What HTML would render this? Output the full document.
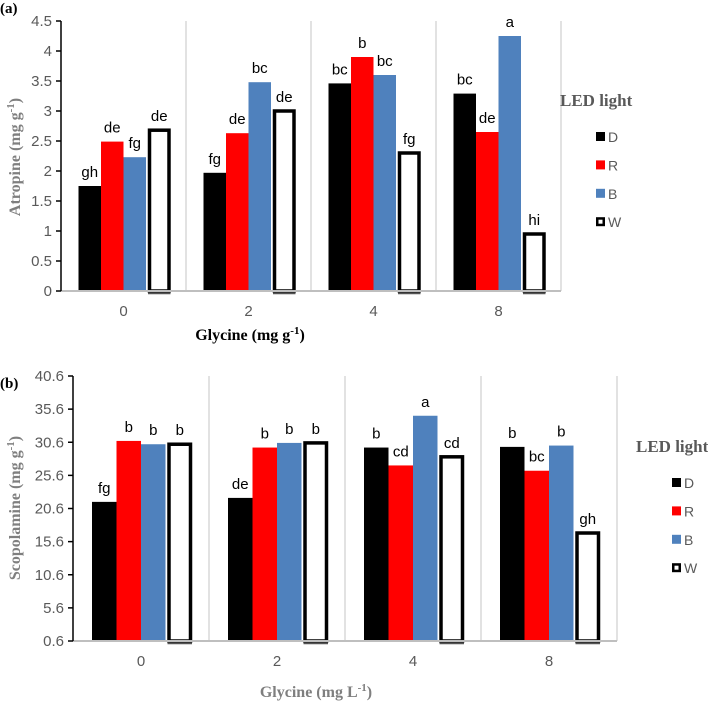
<!DOCTYPE html>
<html><head><meta charset="utf-8"><style>
body{margin:0;background:#fff;}
svg{display:block;}
</style></head><body>
<svg id="s" width="708" height="701" xmlns="http://www.w3.org/2000/svg"></svg>
<script>
const categories = ["0","2","4","8"];
const seriesNames = ["D","R","B","W"];
const atroD = [1.75,1.97,3.46,3.29];
const atroR = [2.49,2.63,3.90,2.65];
const atroB = [2.23,3.48,3.60,4.25];
const atroW = [2.68,3.00,2.30,0.95];
const atroLetters = [["gh","fg","bc","bc"],["de","de","b","de"],["fg","bc","bc","a"],["de","de","fg","hi"]];
const atroTicks = [0,0.5,1,1.5,2,2.5,3,3.5,4,4.5];
const scopD = [21.6,22.2,29.8,29.9];
const scopR = [30.8,29.8,27.1,26.3];
const scopB = [30.3,30.5,34.6,30.1];
const scopW = [30.3,30.5,28.4,16.9];
const scopLetters = [["fg","de","b","b"],["b","b","cd","bc"],["b","b","a","b"],["b","b","cd","gh"]];
const scopTicks = [0.6,5.6,10.6,15.6,20.6,25.6,30.6,35.6,40.6];

const NS="http://www.w3.org/2000/svg";
const svg=document.getElementById('s');
function mk(tag,attrs,parent){const e=document.createElementNS(NS,tag);for(const k in attrs)e.setAttribute(k,attrs[k]);(parent||svg).appendChild(e);return e;}
const fills=["#000000","#ff0000","#4f81bd","#ffffff"];

function chart(o){
  const g=mk('g',{});
  
  
  const y=v=>o.y0-(v-o.min)/(o.max-o.min)*(o.y0-o.yTop);
  const cw=(o.xR-o.x0)/categories.length;
  const xc=i=>o.x0+cw*(i+0.5);
  // dividers
  for(let i=1;i<=categories.length;i++){
    const l=mk('line',{x1:o.x0+cw*i,x2:o.x0+cw*i,y1:o.yTop,y2:o.y0,stroke:'#d9d9d9','stroke-width':1.5},g);
    
    
  }
  const series=o.series;
  categories.forEach((c,i)=>{
    series.forEach((arr,s)=>{
      const bx=xc(i)-2*o.bw+s*o.bw;
      const top=y(arr[i]);
      let r;
      if(s===3){
        r=mk('rect',{x:bx+2+1.5,y:top,width:o.bw-3,height:o.y0-top,fill:'#fff',stroke:'#000','stroke-width':3.5},g);
        const u=mk('line',{x1:bx+2,x2:bx+2+o.bw,y1:o.y0+2.5,y2:o.y0+2.5,stroke:'#555','stroke-width':1.5},g);
        
        
      } else {
        r=mk('rect',{x:bx,y:top,width:o.bw,height:o.y0-top,fill:fills[s]},g);
      }
      
      
      const t=mk('text',{x:bx+o.bw/2+(s===3?2:0),y:top-9,'text-anchor':'middle','font-family':'Liberation Sans, sans-serif','font-size':15,fill:'#000'},g);
      t.textContent=o.letters[s][i];
      
      
    });
    const tl=mk('text',{x:xc(i),y:o.y0+25,'text-anchor':'middle','font-family':'Liberation Sans, sans-serif','font-size':15,fill:'#595959'},g);
    tl.textContent=c;
    
    
  });
  const ax=mk('line',{x1:o.x0,x2:o.xR,y1:o.y0,y2:o.y0,stroke:'#bfbfbf','stroke-width':2},g);
  
  
  const ay=mk('line',{x1:o.x0,x2:o.x0,y1:o.yTop,y2:o.y0,stroke:'#000','stroke-width':1.5},g);
  
  
  o.ticks.forEach(v=>{
    const tk=mk('line',{x1:o.x0-5,x2:o.x0,y1:y(v),y2:y(v),stroke:'#000','stroke-width':1.5},g);
    
    
    const t=mk('text',{x:o.x0-9,y:y(v)+5,'text-anchor':'end','font-family':'Liberation Sans, sans-serif','font-size':15,fill:'#595959'},g);
    t.textContent=String(v);
    
    
  });
}

chart({name:'atropine-chart',x0:61,xR:561,y0:291,yTop:21,min:0,max:4.5,bw:22.5,series:[atroD,atroR,atroB,atroW],letters:atroLetters,ticks:atroTicks});
chart({name:'scopolamine-chart',x0:73,xR:617,y0:641,yTop:376,min:0.6,max:40.6,bw:24.5,series:[scopD,scopR,scopB,scopW],letters:scopLetters,ticks:scopTicks});

function legend(x,y,name){
  const g=mk('g',{});
  
  
  const h=mk('text',{x:x,y:y,'font-family':'Liberation Serif, serif','font-weight':'bold','font-size':17,fill:'#595959'},g);
  h.textContent='LED light';
  
  
  seriesNames.forEach((n,i)=>{
    const cy=y+31+i*28.4;
    const sx=x+36;
    let r;
    if(i===3) r=mk('rect',{x:sx+1.25,y:cy-3.75,width:6.5,height:6.5,fill:'#fff',stroke:'#000','stroke-width':2.5},g);
    else r=mk('rect',{x:sx,y:cy-5,width:9,height:9,fill:fills[i]},g);
    
    
    const t=mk('text',{x:sx+12,y:cy+5,'font-family':'Liberation Sans, sans-serif','font-size':14,fill:'#595959'},g);
    t.textContent=n;
    
    
  });
}
legend(560,106,'legend-a');
legend(636,452,'legend-b');

function txt(str,attrs,name,rot){
  const t=mk('text',attrs);
  if(rot) t.setAttribute('transform',rot);
  t.innerHTML=str;
  
  
}
txt('(a)',{x:0,y:13,'font-family':'Liberation Serif, serif','font-weight':'bold','font-size':15,fill:'#000'},'panel-label-a');
txt('(b)',{x:0,y:388,'font-family':'Liberation Serif, serif','font-weight':'bold','font-size':15,fill:'#000'},'panel-label-b');
txt('Atropine (mg g<tspan dy="-6" font-size="11">-1</tspan><tspan dy="6">)</tspan>',{x:0,y:0,'text-anchor':'middle','font-family':'Liberation Serif, serif','font-weight':'bold','font-size':16,fill:'#7f7f7f'},'y-axis-title-a','translate(20,157) rotate(-90)');
txt('Scopolamine (mg g<tspan dy="-6" font-size="11">-1</tspan><tspan dy="6">)</tspan>',{x:0,y:0,'text-anchor':'middle','font-family':'Liberation Serif, serif','font-weight':'bold','font-size':16,fill:'#7f7f7f'},'y-axis-title-b','translate(20,508) rotate(-90)');
txt('Glycine (mg g<tspan dy="-6" font-size="11">-1</tspan><tspan dy="6">)</tspan>',{x:250,y:340,'text-anchor':'middle','font-family':'Liberation Serif, serif','font-weight':'bold','font-size':16,fill:'#000'},'x-axis-title-a');
txt('Glycine (mg L<tspan dy="-6" font-size="11">-1</tspan><tspan dy="6">)</tspan>',{x:316,y:697,'text-anchor':'middle','font-family':'Liberation Serif, serif','font-weight':'bold','font-size':16,fill:'#7f7f7f'},'x-axis-title-b');
</script>
</body></html>
